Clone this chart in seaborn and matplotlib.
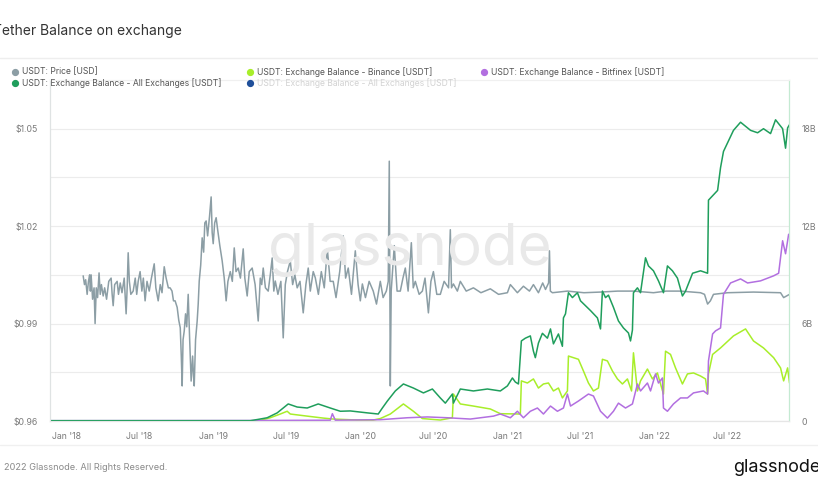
import matplotlib
matplotlib.use("Agg")
import matplotlib.pyplot as plt
from matplotlib.lines import Line2D
import seaborn as sns
import pandas as pd

# time in decimal years offset from 2018-01-01
price_t = [0.116, 0.125, 0.133, 0.143, 0.152, 0.160, 0.165, 0.170, 0.180, 0.190,
           0.197, 0.205, 0.214, 0.224, 0.232, 0.240, 0.252, 0.262, 0.275, 0.290,
           0.306, 0.313, 0.320, 0.330, 0.347, 0.356, 0.368, 0.380, 0.395, 0.408,
           0.415, 0.422, 0.430, 0.440, 0.456, 0.470, 0.480, 0.490, 0.503, 0.515,
           0.525, 0.537, 0.550, 0.565, 0.580, 0.599, 0.610, 0.626, 0.640, 0.652,
           0.667, 0.680, 0.695, 0.707, 0.720, 0.730, 0.741, 0.755, 0.766, 0.776,
           0.783, 0.789, 0.795, 0.803, 0.812, 0.820, 0.830, 0.840, 0.850, 0.860,
           0.866, 0.871, 0.880, 0.891, 0.898, 0.905, 0.915, 0.925, 0.935, 0.943,
           0.952, 0.962, 0.975, 0.986, 0.993, 1.000, 1.010, 1.020, 1.030, 1.045,
           1.061, 1.075, 1.088, 1.100, 1.116, 1.130, 1.143, 1.155, 1.170, 1.185,
           1.204, 1.215, 1.231, 1.245, 1.265, 1.285, 1.296, 1.306, 1.320, 1.330,
           1.340, 1.355, 1.374, 1.388, 1.401, 1.412, 1.422, 1.440, 1.460, 1.476,
           1.490, 1.505, 1.524, 1.540, 1.555, 1.571, 1.590, 1.612, 1.630, 1.646,
           1.660, 1.680, 1.694, 1.715, 1.735, 1.755, 1.776, 1.795, 1.816, 1.835,
           1.860, 1.884, 1.900, 1.918, 1.940, 1.966, 1.985, 2.000, 2.014, 2.035,
           2.060, 2.088, 2.110, 2.136, 2.155, 2.177, 2.190, 2.197, 2.201, 2.204,
           2.210, 2.231, 2.250, 2.272, 2.290, 2.306, 2.325, 2.347, 2.360, 2.374,
           2.400, 2.422, 2.440, 2.463, 2.480, 2.497, 2.520, 2.544, 2.570, 2.600,
           2.612, 2.620, 2.633, 2.660, 2.680, 2.720, 2.769, 2.820, 2.884, 2.940,
           3.000, 3.020, 3.068, 3.109, 3.150, 3.177, 3.211, 3.240, 3.259, 3.280,
           3.286, 3.292, 3.306, 3.408, 3.520, 3.633, 3.750, 3.857, 3.993, 4.080,
           4.177, 4.313, 4.340, 4.361, 4.380, 4.401, 4.497, 4.673, 4.857, 4.878,
           4.918]
price_v = [1.0047, 1.0020, 1.0035, 0.9990, 1.0030, 1.0050, 1.0000, 1.0050, 0.9975, 1.0010,
           0.9900, 1.0010, 0.9980, 1.0056, 0.9990, 1.0020, 0.9985, 1.0010, 0.9975, 1.0030,
           1.0040, 0.9990, 0.9955, 1.0020, 1.0030, 0.9990, 1.0025, 0.9995, 1.0040, 0.9930,
           1.0010, 1.0118, 1.0030, 0.9990, 1.0000, 1.0040, 0.9990, 1.0030, 1.0060, 1.0000,
           1.0040, 0.9970, 1.0030, 1.0000, 1.0040, 1.0084, 1.0010, 0.9970, 1.0020, 0.9995,
           1.0075, 1.0040, 1.0010, 1.0010, 1.0000, 0.9970, 0.9970, 0.9950, 0.9910, 0.9887,
           0.9800, 0.9708, 0.9850, 0.9877, 0.9930, 0.9890, 0.9990, 0.9850, 0.9723, 0.9800,
           0.9740, 0.9708, 0.9850, 0.9908, 0.9960, 1.0031, 1.0080, 1.0164, 1.0120, 1.0210,
           1.0216, 1.0170, 1.0230, 1.0290, 1.0180, 1.0146, 1.0210, 1.0226, 1.0190, 1.0140,
           1.0093, 1.0040, 0.9970, 1.0030, 1.0060, 1.0030, 1.0133, 1.0060, 1.0071, 1.0040,
           1.0130, 1.0040, 0.9985, 1.0060, 1.0071, 1.0020, 0.9960, 0.9908, 1.0040, 1.0020,
           1.0071, 1.0010, 1.0000, 1.0050, 1.0102, 1.0000, 1.0031, 0.9990, 1.0030, 0.9856,
           1.0020, 1.0060, 1.0093, 1.0020, 1.0050, 1.0010, 1.0030, 0.9933, 1.0020, 1.0071,
           1.0000, 1.0060, 1.0041, 0.9990, 1.0060, 1.0010, 1.0130, 1.0030, 1.0030, 0.9980,
           1.0060, 1.0170, 1.0040, 1.0071, 0.9990, 1.0124, 1.0020, 0.9970, 1.0022, 0.9980,
           1.0030, 1.0000, 0.9960, 1.0030, 0.9980, 1.0000, 1.0030, 1.0400, 1.0000, 0.9708,
           1.0000, 1.0140, 1.0000, 1.0000, 1.0040, 1.0071, 1.0000, 1.0149, 1.0010, 1.0030,
           0.9990, 1.0000, 1.0040, 0.9933, 1.0030, 1.0060, 0.9990, 0.9990, 1.0030, 1.0010,
           1.0189, 1.0010, 1.0022, 1.0000, 1.0030, 1.0000, 1.0010, 0.9995, 1.0007, 0.9990,
           0.9995, 1.0020, 0.9995, 1.0015, 1.0000, 1.0020, 0.9995, 1.0025, 1.0005, 1.0025,
           1.0124, 1.0000, 0.9995, 1.0000, 0.9995, 0.9997, 1.0000, 1.0000, 0.9995, 1.0000,
           1.0000, 0.9995, 0.9990, 0.9960, 0.9970, 0.9990, 0.9995, 0.9997, 0.9995, 0.9980,
           0.9990]

all_t = [-0.109, 1.252, 1.306, 1.367, 1.435, 1.476, 1.510, 1.571, 1.639, 1.714,
         1.796, 1.864, 1.932, 2.048, 2.122, 2.150, 2.184, 2.238, 2.293, 2.361,
         2.429, 2.490, 2.544, 2.578, 2.626, 2.633, 2.680, 2.769, 2.864, 2.952,
         3.000, 3.034, 3.054, 3.075, 3.095, 3.122, 3.156, 3.177, 3.190, 3.211,
         3.238, 3.272, 3.293, 3.313, 3.347, 3.374, 3.381, 3.395, 3.415, 3.442,
         3.476, 3.497, 3.531, 3.565, 3.612, 3.633, 3.646, 3.667, 3.687, 3.721,
         3.755, 3.789, 3.823, 3.837, 3.850, 3.857, 3.884, 3.905, 3.939, 3.959,
         3.993, 4.027, 4.061, 4.088, 4.122, 4.156, 4.190, 4.211, 4.259, 4.313,
         4.361, 4.367, 4.429, 4.449, 4.469, 4.537, 4.585, 4.653, 4.701, 4.741,
         4.789, 4.823, 4.871, 4.891, 4.905, 4.918]
all_v = [0.02, 0.02, 0.1, 0.2, 0.5, 0.8, 1.05, 0.86, 0.8, 1.05,
         0.8, 0.6, 0.62, 0.5, 0.43, 0.8, 1.23, 1.85, 2.28, 2.03,
         1.73, 1.97, 1.42, 1.1, 1.66, 1.1, 1.97, 1.85, 1.97, 1.85,
         2.16, 2.65, 2.4, 2.28, 4.93, 5.1, 5.24, 4.3, 3.9, 4.8,
         5.4, 5.1, 5.67, 4.75, 5.36, 4.6, 6.35, 6.6, 7.9, 7.6,
         7.9, 7.4, 7.1, 6.8, 6.35, 5.67, 8.0, 7.6, 7.75, 7.0,
         6.16, 5.73, 5.42, 4.93, 5.6, 7.9, 8.2, 7.9, 10.05, 9.55,
         9.25, 8.63, 7.9, 9.55, 9.25, 8.8, 7.7, 8.0, 9.1, 9.25,
         9.1, 13.6, 14.2, 15.6, 16.6, 17.9, 18.4, 17.9, 17.75, 18.0,
         17.7, 18.55, 18.0, 16.8, 18.05, 18.25]

binance_t = [-0.109, 1.306, 1.388, 1.456, 1.503, 1.524, 1.639, 1.748, 1.816, 1.980,
             2.088, 2.136, 2.204, 2.293, 2.361, 2.422, 2.544, 2.626, 2.633, 2.680,
             2.769, 2.884, 2.952, 3.088, 3.095, 3.136, 3.177, 3.211, 3.245, 3.279,
             3.313, 3.347, 3.374, 3.408, 3.415, 3.449, 3.483, 3.517, 3.551, 3.585,
             3.619, 3.646, 3.680, 3.714, 3.748, 3.782, 3.816, 3.844, 3.857, 3.884,
             3.905, 3.952, 3.986, 4.020, 4.041, 4.061, 4.075, 4.109, 4.143, 4.190,
             4.224, 4.265, 4.313, 4.347, 4.361, 4.367, 4.395, 4.449, 4.537, 4.619,
             4.673, 4.741, 4.810, 4.857, 4.878, 4.905, 4.918]
binance_v = [0.0, 0.0, 0.2, 0.43, 0.6, 0.43, 0.3, 0.18, 0.12, 0.06,
             0.06, 0.15, 0.43, 1.05, 0.6, 0.15, 0.06, 0.2, 1.66, 1.05,
             0.92, 0.74, 0.45, 0.43, 2.47, 2.34, 2.59, 2.03, 2.28, 2.34,
             1.85, 2.03, 1.42, 1.85, 4.0, 3.9, 3.8, 3.08, 2.34, 1.85,
             2.03, 3.8, 3.7, 3.08, 2.59, 2.28, 2.59, 1.85, 4.2, 1.85,
             2.47, 3.2, 2.59, 2.96, 2.28, 1.66, 4.3, 4.1, 3.27, 2.28,
             2.9, 2.96, 2.77, 2.59, 1.66, 2.9, 4.1, 4.5, 5.24, 5.67,
             4.93, 4.5, 3.9, 3.27, 2.47, 3.27, 2.34]

bitfinex_t = [-0.109, 1.252, 1.796, 1.810, 1.830, 2.136, 2.320, 2.456, 2.592, 2.748,
              2.905, 2.952, 3.020, 3.068, 3.109, 3.156, 3.204, 3.245, 3.293, 3.340,
              3.381, 3.408, 3.429, 3.483, 3.551, 3.585, 3.633, 3.680, 3.721, 3.755,
              3.803, 3.850, 3.884, 3.905, 3.952, 3.973, 4.007, 4.027, 4.054, 4.061,
              4.088, 4.129, 4.177, 4.224, 4.265, 4.333, 4.361, 4.367, 4.395, 4.415,
              4.449, 4.469, 4.517, 4.585, 4.633, 4.721, 4.810, 4.844, 4.871, 4.891,
              4.912]
bitfinex_v = [0.02, 0.03, 0.05, 0.45, 0.05, 0.08, 0.2, 0.25, 0.2, 0.12,
              0.3, 0.43, 0.2, 0.6, 0.2, 0.6, 0.8, 0.43, 0.92, 0.6,
              0.8, 1.66, 0.92, 1.23, 1.66, 1.54, 0.6, 0.18, 0.6, 1.1,
              0.8, 1.05, 2.28, 1.85, 2.34, 1.85, 2.9, 2.34, 2.65, 0.8,
              0.6, 1.05, 1.42, 1.42, 1.73, 1.85, 1.66, 3.7, 5.36, 5.55,
              5.73, 7.8, 8.5, 8.75, 8.5, 8.63, 8.94, 9.1, 11.1, 10.3,
              11.5]

tick_dates = ["2018-01-01", "2018-07-01", "2019-01-01", "2019-07-01", "2020-01-01",
              "2020-07-01", "2021-01-01", "2021-07-01", "2022-01-01", "2022-07-01"]
tick_labels = ["Jan '18", "Jul '18", "Jan '19", "Jul '19", "Jan '20",
               "Jul '20", "Jan '21", "Jul '21", "Jan '22", "Jul '22"]

C_PRICE = "#8c9ea5"
C_BIN = "#a8ee2a"
C_BFX = "#b26fe0"
C_ALL = "#1f9e5c"
C_HID = "#1f4f9a"


def to_dates(ts):
    base = pd.Timestamp("2018-01-01")
    return [base + pd.Timedelta(days=t * 365.25) for t in ts]


price_df = pd.DataFrame({"date": to_dates(price_t), "v": price_v})
all_df = pd.DataFrame({"date": to_dates(all_t), "v": [v * 1e9 for v in all_v]})
bin_df = pd.DataFrame({"date": to_dates(binance_t), "v": [v * 1e9 for v in binance_v]})
bfx_df = pd.DataFrame({"date": to_dates(bitfinex_t), "v": [v * 1e9 for v in bitfinex_v]})

sns.set_style("white")
plt.rcParams["font.family"] = ["Inter", "DejaVu Sans"]

fig = plt.figure(figsize=(8.18, 4.9), dpi=100)
ax = fig.add_axes([50 / 818, 1 - 421 / 490, 739 / 818, 341 / 490])
ax2 = ax.twinx()

sns.lineplot(data=price_df, x="date", y="v", color=C_PRICE, lw=1.1, ax=ax)
sns.lineplot(data=bin_df, x="date", y="v", color=C_BIN, lw=1.1, ax=ax2)
sns.lineplot(data=bfx_df, x="date", y="v", color=C_BFX, lw=1.1, ax=ax2)
sns.lineplot(data=all_df, x="date", y="v", color=C_ALL, lw=1.1, ax=ax2)

ax.set_xlim(pd.Timestamp("2017-11-22"), pd.Timestamp("2022-12-01"))
ax.set_ylim(0.96, 1.065)
ax2.set_ylim(0, 21e9)

ax.set_yticks([0.96, 0.975, 0.99, 1.005, 1.02, 1.035, 1.05])
ax.set_yticklabels(["$0.96", "", "$0.99", "", "$1.02", "", "$1.05"])
ax2.set_yticks([0, 3e9, 6e9, 9e9, 12e9, 15e9, 18e9])
ax2.set_yticklabels(["0", "", "6B", "", "12B", "", "18B"])
ax.set_xticks(pd.to_datetime(tick_dates))
ax.set_xticklabels(tick_labels)

ax.grid(axis="y", color="#ececec", lw=0.8)
ax.grid(axis="x", visible=False)
ax2.grid(False)
for a in (ax, ax2):
    a.set_xlabel("")
    a.set_ylabel("")
    a.tick_params(length=0, labelsize=6.3, colors="#7a7a7a")
ax.tick_params(axis="y", pad=9)
ax2.tick_params(axis="y", pad=9)
ax.tick_params(axis="x", pad=8)

for a in (ax, ax2):
    a.spines["top"].set_color("#f0f0f0")
    a.spines["bottom"].set_color("#e6e6e6")
    a.spines["left"].set_color("#dfe3e3")
    a.spines["right"].set_color("#c4ead2")
    for s in a.spines.values():
        s.set_linewidth(0.8)

# watermark
fig.text(410 / 818, 1 - 250 / 490, "glassnode", fontsize=42, color="#e9e9e9",
         ha="center", va="center", zorder=0)

# title and separators
fig.text(-7 / 818, 1 - 31 / 490, "Tether Balance on exchange", fontsize=10,
         color="#333333", va="center")
fig.add_artist(Line2D([0, 1], [1 - 58 / 490] * 2, color="#eeeeee", lw=1))
fig.add_artist(Line2D([0, 1], [1 - 445 / 490] * 2, color="#f0f0f0", lw=1))

# legend
legend_items = [
    (15, 72, C_PRICE, "USDT: Price [USD]", "#555555"),
    (250, 72, C_BIN, "USDT: Exchange Balance - Binance [USDT]", "#555555"),
    (484, 72, C_BFX, "USDT: Exchange Balance - Bitfinex [USDT]", "#555555"),
    (15, 83, C_ALL, "USDT: Exchange Balance - All Exchanges [USDT]", "#555555"),
    (250, 83, C_HID, "USDT: Exchange Balance - All Exchanges [USDT]", "#d2d2d2"),
]
for lx, ly, c, label, tc in legend_items:
    fig.add_artist(Line2D([lx / 818], [1 - ly / 490], marker="o", markersize=4.2,
                          color=c, lw=0))
    fig.text((lx + 7) / 818, 1 - ly / 490, label, fontsize=6.2, color=tc, va="center")

# footer
fig.text(4 / 818, 1 - 467 / 490, "2022 Glassnode. All Rights Reserved.",
         fontsize=6.6, color="#8a8a8a", va="center")
fig.text(733 / 818, 1 - 467 / 490, "glassnode", fontsize=13, color="#111111",
         va="center")

fig.savefig("out.png", dpi=100)
